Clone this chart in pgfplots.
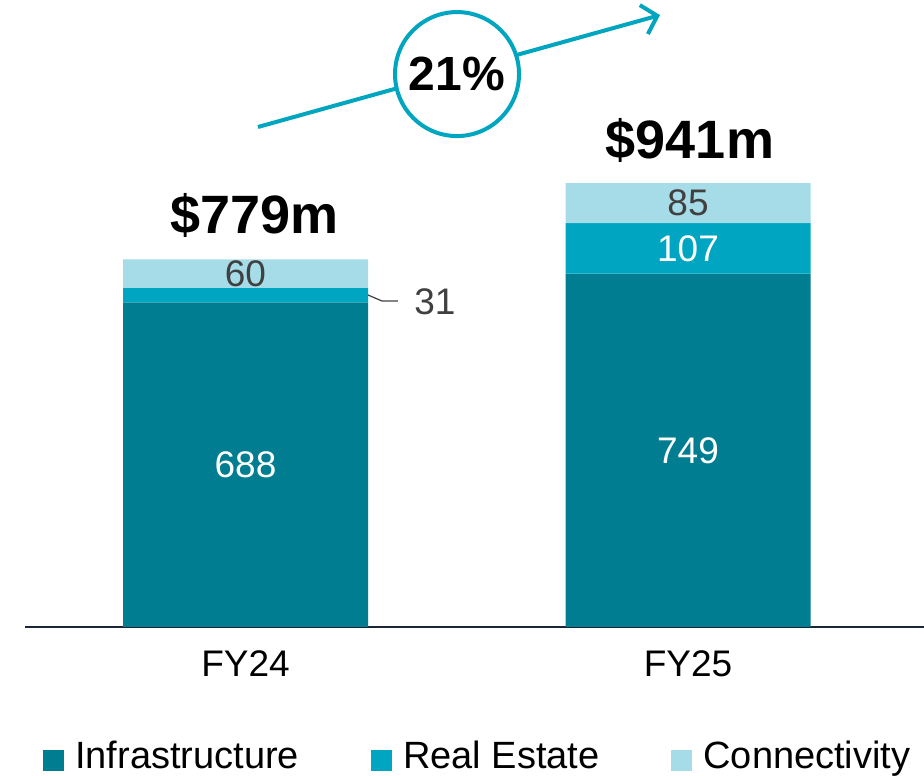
\documentclass[border=0pt]{standalone}
\usepackage{fontspec}
\setmainfont{Liberation Sans}
\usepackage{pgfplots}
\pgfplotsset{compat=1.18}
\usetikzlibrary{arrows.meta}
\definecolor{infra}{HTML}{007D91}
\definecolor{reale}{HTML}{00A6C1}
\definecolor{conn}{HTML}{A6DCE7}
\definecolor{lbl}{HTML}{404040}
\definecolor{arr}{HTML}{00A5BF}
\definecolor{axl}{HTML}{1B2535}
\pgfplotsset{sqlegend/.style={legend image code/.code={\fill[##1] (0pt,-16pt) rectangle (21pt,5pt); \path (0pt,0pt) (32pt,0pt);}}}
\begin{document}
\begin{tikzpicture}
\begin{axis}[
  scale only axis, width=899pt, height=627pt,
  xmin=-0.49831, xmax=1.53333, ymin=0, ymax=1329,
  ybar stacked, bar width=245pt, reverse stacked plots=false,
  axis x line=bottom, axis y line=none,
  x axis line style={-, color=axl, line width=1.5pt},
  xtick={0,1}, xticklabels={FY24,FY25}, major tick length=0pt,
  xticklabel style={font=\fontsize{37}{40}\selectfont, anchor=base, yshift=-49pt},
  ytick=\empty,
  clip=false,
  legend columns=3,
  legend style={draw=none, fill=none, at={(0.02,-0.2058)}, anchor=west,
    font=\fontsize{38}{42}\selectfont, inner sep=0pt,
    /tikz/every even column/.append style={column sep=72pt},
    nodes={inner sep=0pt}},
]
\addplot[fill=infra, draw=none, sqlegend] coordinates {(0,688) (1,749)};
\addplot[fill=reale, draw=none, sqlegend] coordinates {(0,31) (1,107)};
\addplot[fill=conn, draw=none, sqlegend] coordinates {(0,60) (1,85)};
\legend{Infrastructure, Real Estate, Connectivity}

\node[font=\fontsize{37}{40}\selectfont, text=white] at (axis cs:0,344) {688};
\node[font=\fontsize{37}{40}\selectfont, text=lbl] at (axis cs:0,749) {60};
\node[font=\fontsize{37}{40}\selectfont, text=lbl] at (axis cs:0.428,689) {31};
\draw[lbl, line width=1.2pt] (axis cs:0.2768,703.7) -- (axis cs:0.3085,691) -- (axis cs:0.3446,691);
\node[font=\fontsize{37}{40}\selectfont, text=white] at (axis cs:1,374.5) {749};
\node[font=\fontsize{37}{40}\selectfont, text=white] at (axis cs:1,802.5) {107};
\node[font=\fontsize{37}{40}\selectfont, text=lbl] at (axis cs:1,898.5) {85};

\node[font=\bfseries\fontsize{54}{58}\selectfont, anchor=base] at (axis cs:0.02,835) {\$779m};
\node[font=\bfseries\fontsize{54}{58}\selectfont, anchor=base] at (axis cs:1.0045,994) {\$941m};

\draw[arr, line width=4pt, -{Straight Barb[length=14pt,width=30pt]}] (axis cs:0.0282,1059.8) -- (axis cs:0.9367,1297);
\draw[arr, line width=4pt, fill=white] (axis cs:0.478,1172) circle[radius=62pt];
\node[font=\bfseries\fontsize{48}{52}\selectfont] at (axis cs:0.478,1172) {21\%};
\end{axis}
\pgfresetboundingbox
\path (current axis.south west) ++(-25pt,-149pt) rectangle ++(924pt,776pt);
\end{tikzpicture}
\end{document}
